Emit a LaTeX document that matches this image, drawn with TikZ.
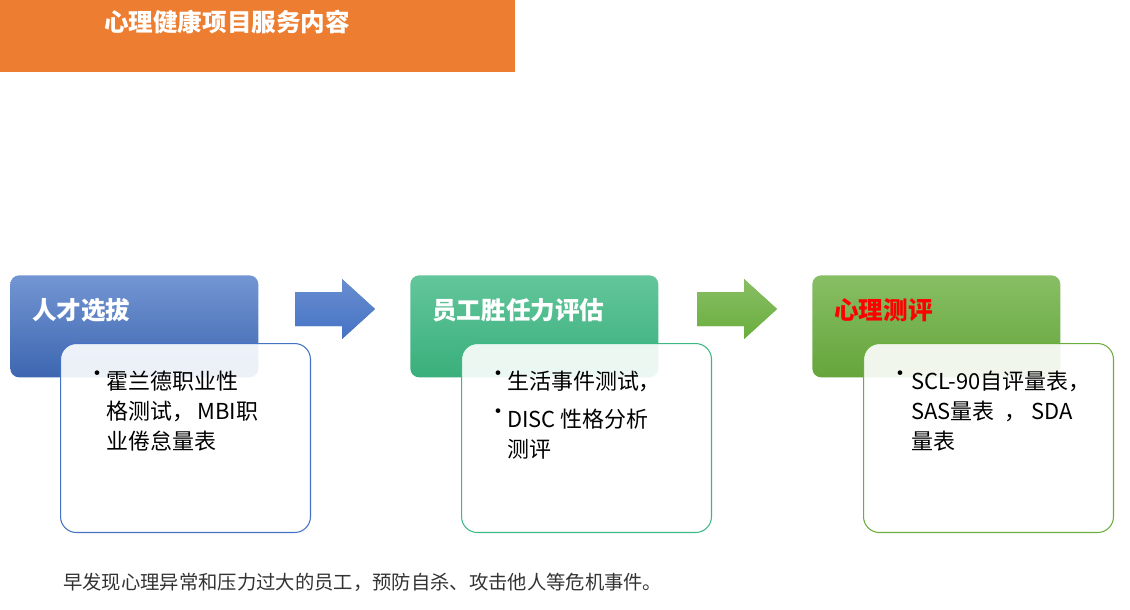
\documentclass[tikz,border=0pt]{standalone}
\usepackage{fontspec}
\setmainfont{Noto Sans CJK SC}
\usetikzlibrary{positioning}
\definecolor{orangehd}{HTML}{ED7D31}
\definecolor{bluehd}{HTML}{4472C4}
\definecolor{greenhd}{HTML}{3CB882}
\definecolor{limehd}{HTML}{6AAE3E}
\begin{document}
\begin{tikzpicture}[x=0.02cm,y=-0.02cm,
    headbox/.style={rounded corners=5pt, minimum width=4.96cm, minimum height=2.04cm, anchor=north west, inner sep=0pt},
    headtext/.style={font=\bfseries\fontsize{14}{16}\selectfont, text=white, anchor=west},
    itembox/.style={draw, fill=white, fill opacity=0.9, text opacity=1, rounded corners=9pt, minimum width=5cm, minimum height=3.78cm, anchor=north west, line width=0.6pt},
    itemtext/.style={font=\fontsize{12.5}{17}\selectfont, anchor=north west, align=left, text=black},
    bigarrow/.style={draw=none}
]
\useasboundingbox (0,0) rectangle (1130,609);
% titel
\fill[orangehd] (0,0) rectangle (515,72);
\node[font=\bfseries\fontsize{14}{16}\selectfont, text=white] (title) at (227,22) {心理健康项目服务内容};

% stap 1
\node[headbox, top color=bluehd!75, bottom color=bluehd!90!black] (h1) at (10,275) {};
\node[headtext] (t1) at (26,310) {人才选拔};
\node[itembox, draw=bluehd] (b1) at (60,343) {};
\node[itemtext] (i1) at (80,365) {•};
\node[itemtext] (l1) at (100,365) {霍兰德职业性\\格测试，\,MBI职\\业倦怠量表};
\fill[bluehd, top color=bluehd!80, bottom color=bluehd] (295,292) -- (342,292) -- (342,279) -- (375,309) -- (342,339) -- (342,326) -- (295,326) -- cycle;

% stap 2
\node[headbox, top color=greenhd!80, bottom color=greenhd!95!black] (h2) at (410,275) {};
\node[headtext] (t2) at (426,310) {员工胜任力评估};
\node[itembox, draw=greenhd] (b2) at (461,343) {};
\node[itemtext] (i2a) at (481,365) {•};
\node[itemtext] (l2a) at (501,365) {生活事件测试，};
\node[itemtext] (i2b) at (481,403) {•};
\node[itemtext] (l2b) at (501,403) {DISC 性格分析\\测评};
\fill[limehd, top color=limehd!80, bottom color=limehd] (697,292) -- (744,292) -- (744,279) -- (777,309) -- (744,339) -- (744,326) -- (697,326) -- cycle;

% stap 3
\node[headbox, top color=limehd!80, bottom color=limehd!95!black] (h3) at (812,275) {};
\node[headtext, text=red] (t3) at (828,310) {心理测评};
\node[itembox, draw=limehd] (b3) at (863,343) {};
\node[itemtext] (i3) at (883,365) {•};
\node[itemtext] (l3) at (905,365) {SCL-90自评量表，\\SAS量表\ \ ，\ SDA\\量表};

% onderschrift
\node[font=\fontsize{11}{13}\selectfont, text=black!80, anchor=west] (note) at (57,582) {早发现心理异常和压力过大的员工，预防自杀、攻击他人等危机事件。};
\end{tikzpicture}
\end{document}
